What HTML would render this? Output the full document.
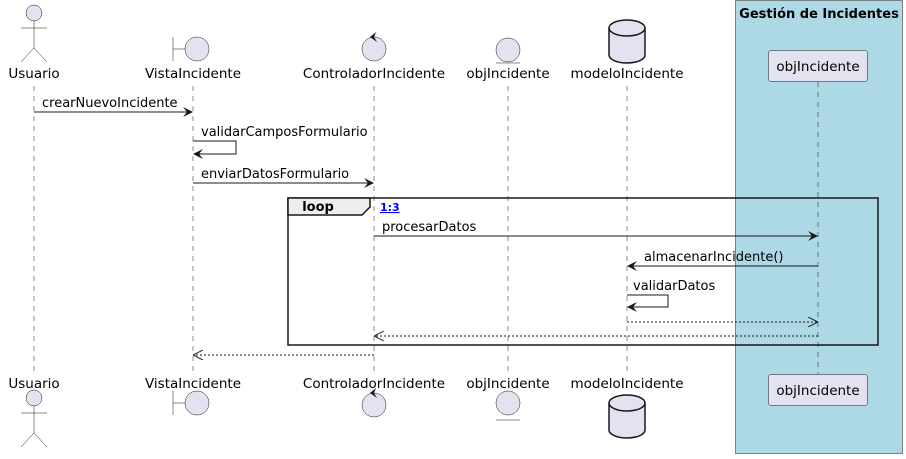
<!DOCTYPE html>
<html><head><meta charset="utf-8"><style>
html,body{margin:0;padding:0;background:#fff;width:906px;height:459px;overflow:hidden}
text{font-family:"DejaVu Sans","Liberation Sans",sans-serif}
</style></head><body>
<svg width="906" height="459" xmlns="http://www.w3.org/2000/svg">
<defs>
<marker id="a" markerWidth="10" markerHeight="10" refX="9" refY="5" orient="auto" markerUnits="userSpaceOnUse"><path d="M0,0 L10,5 L0,10 L4,5 Z" fill="#181818"/></marker>
<marker id="o" markerWidth="10" markerHeight="10" refX="9" refY="5" orient="auto" markerUnits="userSpaceOnUse"><path d="M0,0 L10,5 L0,10" fill="none" stroke="#181818" stroke-width="1"/></marker>
</defs>
<rect x="735.5" y="0.5" width="167" height="453" fill="#ADD8E6" stroke="#181818" stroke-width="0.5"/>
<text x="819" y="18" font-size="13" font-weight="bold" text-anchor="middle">Gestión de Incidentes</text>
<g stroke="#181818" stroke-width="0.5" stroke-dasharray="5,5">
<line x1="34" y1="86" x2="34" y2="372"/><line x1="193" y1="86" x2="193" y2="372"/>
<line x1="374" y1="86" x2="374" y2="372"/><line x1="508" y1="86" x2="508" y2="372"/>
<line x1="627" y1="86" x2="627" y2="372"/><line x1="818" y1="82" x2="818" y2="374"/>
</g>
<g fill="#E2E2F0" stroke="#181818" stroke-width="0.5">
<circle cx="34" cy="13" r="8"/><line x1="34" y1="21" x2="34" y2="48"/><line x1="21" y1="28" x2="47" y2="28"/><path d="M21,62 L34,48 L47,62" fill="none"/>
<circle cx="34" cy="398" r="8"/><line x1="34" y1="406" x2="34" y2="433"/><line x1="21" y1="413" x2="47" y2="413"/><path d="M21,447 L34,433 L47,447" fill="none"/>
<circle cx="197" cy="49" r="12"/><line x1="173" y1="37" x2="173" y2="61"/><line x1="173" y1="49" x2="185" y2="49"/>
<circle cx="197" cy="403" r="12"/><line x1="173" y1="391" x2="173" y2="415"/><line x1="173" y1="403" x2="185" y2="403"/>
<circle cx="374" cy="49" r="12"/><circle cx="374" cy="405" r="12"/>
<circle cx="508" cy="50" r="12"/><line x1="496" y1="63" x2="520" y2="63"/>
<circle cx="508" cy="403" r="12"/><line x1="496" y1="420" x2="520" y2="420"/>
<rect x="768.5" y="50.5" width="99" height="31" rx="2.5"/>
<rect x="768.5" y="374.5" width="99" height="31" rx="2.5"/>
</g>
<path d="M376,32 L370,37 L377,42 L374,37 Z" fill="#181818"/>
<path d="M376,388 L370,393 L377,398 L374,393 Z" fill="#181818"/>
<g fill="#E2E2F0" stroke="#181818" stroke-width="1.5">
<path d="M609,28 L609,55 A18,8 0 0 0 645,55 L645,28 A18,8 0 0 0 609,28 Z"/><path d="M609,28 A18,8 0 0 0 645,28" fill="none"/>
<path d="M609,403 L609,430 A18,8 0 0 0 645,430 L645,403 A18,8 0 0 0 609,403 Z"/><path d="M609,403 A18,8 0 0 0 645,403" fill="none"/>
</g>
<g font-size="13.5" text-anchor="middle" fill="#000">
<text x="34" y="78">Usuario</text><text x="193" y="78">VistaIncidente</text><text x="374" y="78">ControladorIncidente</text><text x="508" y="78">objIncidente</text><text x="627" y="78">modeloIncidente</text><text x="818" y="71">objIncidente</text>
<text x="34" y="388">Usuario</text><text x="193" y="388">VistaIncidente</text><text x="374" y="388">ControladorIncidente</text><text x="508" y="388">objIncidente</text><text x="627" y="388">modeloIncidente</text><text x="818" y="395">objIncidente</text>
</g>
<rect x="288" y="198" width="590" height="147" fill="none" stroke="#181818" stroke-width="1.5"/>
<path d="M288,198 L370,198 L370,207 L362,215 L288,215 Z" fill="#EEEEEE" stroke="#181818" stroke-width="1.5"/>
<text x="318" y="211" font-size="13" font-weight="bold" text-anchor="middle">loop</text>
<text x="380" y="211" font-size="11" font-weight="bold" fill="#0000FF" text-decoration="underline">1:3</text>
<g stroke="#181818" stroke-width="1" fill="none">
<line x1="34" y1="112" x2="192" y2="112" marker-end="url(#a)"/>
<path d="M193,141 L236,141 L236,154 L194,154" marker-end="url(#a)"/>
<line x1="193" y1="183" x2="373" y2="183" marker-end="url(#a)"/>
<line x1="374" y1="236" x2="817" y2="236" marker-end="url(#a)"/>
<line x1="818" y1="266" x2="628" y2="266" marker-end="url(#a)"/>
<path d="M627,295 L668,295 L668,307 L628,307" marker-end="url(#a)"/>
<line x1="627" y1="322" x2="817" y2="322" stroke-dasharray="2,2" marker-end="url(#o)"/>
<line x1="818" y1="336" x2="375" y2="336" stroke-dasharray="2,2" marker-end="url(#o)"/>
<line x1="374" y1="355" x2="194" y2="355" stroke-dasharray="2,2" marker-end="url(#o)"/>
</g>
<g font-size="13" fill="#000">
<text x="42" y="107">crearNuevoIncidente</text>
<text x="201" y="136">validarCamposFormulario</text>
<text x="201" y="178">enviarDatosFormulario</text>
<text x="382" y="231">procesarDatos</text>
<text x="644" y="261">almacenarIncidente()</text>
<text x="633" y="290">validarDatos</text>
</g>
</svg>
</body></html>
